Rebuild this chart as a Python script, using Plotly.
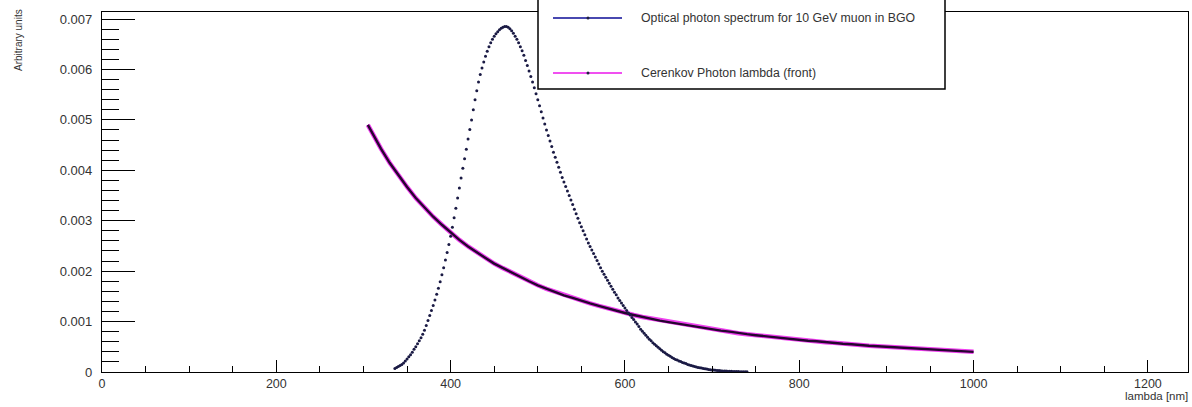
import plotly.graph_objects as go

# ---------------- data ----------------
# Optical photon spectrum for 10 GeV muon in BGO  (y in units of 1e-3)
bgo_lambda = list(range(336, 742, 2))
bgo_values = [
    0.07, 0.09, 0.11, 0.13, 0.15, 0.18, 0.22, 0.26, 0.30, 0.34,
    0.39, 0.45, 0.50, 0.56, 0.62, 0.68, 0.75, 0.83, 0.92, 1.02,
    1.12, 1.22, 1.32, 1.43, 1.54, 1.66, 1.79, 1.93, 2.07, 2.22,
    2.37, 2.53, 2.69, 2.87, 3.06, 3.25, 3.45, 3.65, 3.85, 4.04,
    4.23, 4.42, 4.62, 4.81, 5.00, 5.20, 5.40, 5.58, 5.75, 5.90,
    6.03, 6.15, 6.26, 6.36, 6.45, 6.53, 6.60, 6.66, 6.71, 6.75,
    6.79, 6.82, 6.84, 6.85, 6.85,
    6.84, 6.81, 6.77, 6.72, 6.66, 6.60, 6.53, 6.45, 6.37, 6.28,
    6.18, 6.08, 5.97, 5.86, 5.75, 5.64, 5.52, 5.40, 5.28, 5.16,
    5.04, 4.92, 4.80, 4.69, 4.58, 4.47, 4.36, 4.26, 4.16, 4.06,
    3.96, 3.86, 3.77, 3.68, 3.59, 3.50, 3.41, 3.32, 3.23, 3.14,
    3.05, 2.96, 2.88, 2.80, 2.72, 2.64, 2.56, 2.49, 2.42, 2.35,
    2.28, 2.21, 2.14, 2.07, 2.00, 1.94, 1.88, 1.82, 1.76, 1.70,
    1.64, 1.58, 1.53, 1.47, 1.42, 1.37, 1.32, 1.27, 1.22, 1.17,
    1.13, 1.08, 1.04, 0.99, 0.95, 0.90, 0.85, 0.81, 0.77, 0.73,
    0.69, 0.65, 0.62, 0.58, 0.55, 0.52, 0.49, 0.46, 0.43, 0.40,
    0.38, 0.35, 0.33, 0.31, 0.29, 0.27, 0.25, 0.24, 0.22, 0.21,
    0.19, 0.18, 0.17, 0.15, 0.14, 0.13, 0.12, 0.11, 0.10, 0.09,
    0.085, 0.078, 0.070, 0.064, 0.058, 0.052, 0.047, 0.042, 0.038, 0.034,
    0.031, 0.028, 0.025, 0.022, 0.020, 0.018, 0.016, 0.014, 0.013, 0.011,
    0.010, 0.009, 0.008, 0.007, 0.006, 0.005, 0.004, 0.004,
]

# Cerenkov Photon lambda (front)  (y in units of 1e-3)
cer_lambda = [305] + list(range(310, 1010, 10))
cer_values = [
    4.90,
    4.74, 4.43, 4.15, 3.90, 3.67, 3.45, 3.26, 3.08, 2.92, 2.76,
    2.62, 2.49, 2.37, 2.26, 2.15, 2.06, 1.97, 1.88, 1.80, 1.72,
    1.65, 1.59, 1.52, 1.47, 1.41, 1.36, 1.31, 1.26, 1.22, 1.17,
    1.13, 1.09, 1.06, 1.02, 0.99, 0.96, 0.93, 0.90, 0.87, 0.85,
    0.82, 0.80, 0.77, 0.75, 0.73, 0.71, 0.69, 0.67, 0.66, 0.64,
    0.62, 0.61, 0.59, 0.58, 0.56, 0.55, 0.53, 0.52, 0.51, 0.50,
    0.49, 0.48, 0.46, 0.45, 0.44, 0.43, 0.42, 0.42, 0.41, 0.40,
]

x_ticks = [0, 200, 400, 600, 800, 1000, 1200]
y_ticks = [0, 0.001, 0.002, 0.003, 0.004, 0.005, 0.006, 0.007]
y_ticktext = ["0", "0.001", "0.002", "0.003", "0.004", "0.005", "0.006", "0.007"]

legend_labels = ["Optical photon spectrum for 10 GeV muon in BGO",
                 "Cerenkov Photon lambda (front)"]

# ---------------- figure ----------------
W, H = 1192, 407
ML, MR, MT, MB = 102, 4, 12, 35
PW, PH = W - ML - MR, H - MT - MB


def px(xp):
    return (xp - ML) / PW


def py(yp):
    return (H - MB - yp) / PH


fig = go.Figure()

fig.add_trace(go.Scatter(
    x=cer_lambda, y=[v * 1e-3 for v in cer_values], mode="lines",
    line=dict(color="#f040f0", width=4.5), showlegend=False, hoverinfo="skip"))
fig.add_trace(go.Scatter(
    x=cer_lambda, y=[v * 1e-3 for v in cer_values], mode="lines",
    line=dict(color="#260530", width=2.4), showlegend=False, name=legend_labels[1]))
fig.add_trace(go.Scatter(
    x=bgo_lambda, y=[v * 1e-3 for v in bgo_values], mode="markers",
    marker=dict(color="#1a1a44", size=3), showlegend=False, name=legend_labels[0]))

font = "Liberation Sans, Arial, Helvetica, sans-serif"
tick_col = "#333333"

fig.update_layout(
    width=W, height=H,
    margin=dict(l=ML, r=MR, t=MT, b=MB),
    paper_bgcolor="white", plot_bgcolor="white",
    font=dict(family=font, color=tick_col),
    xaxis=dict(range=[0, 1246], showgrid=False, zeroline=False,
               showline=True, linecolor="black", linewidth=1.2, mirror=True,
               ticks="inside", ticklen=12, tickwidth=1, tickcolor="black",
               tickmode="array", tickvals=x_ticks,
               tickfont=dict(size=12.5, color=tick_col),
               minor=dict(ticks="inside", ticklen=6, tickwidth=1, tickcolor="black",
                          dtick=50, tick0=0, showgrid=False)),
    yaxis=dict(range=[0, 0.00714], showgrid=False, zeroline=False,
               showline=True, linecolor="black", linewidth=1.2, mirror=True,
               ticks="inside", ticklen=33, tickwidth=1, tickcolor="black",
               tickmode="array", tickvals=y_ticks, ticktext=y_ticktext,
               tickfont=dict(size=13, color=tick_col), ticklabelstandoff=6,
               minor=dict(ticks="inside", ticklen=17, tickwidth=1, tickcolor="black",
                          dtick=0.0002, tick0=0, showgrid=False)),
)

annotations = [
    dict(text="lambda [nm]", xref="paper", yref="paper", x=px(1190), y=py(388),
         xanchor="right", yanchor="top", showarrow=False,
         font=dict(size=11.5, color=tick_col, family=font)),
    dict(text="Arbitrary units", xref="paper", yref="paper", x=px(18), y=py(7),
         xanchor="center", yanchor="top", textangle=-90, showarrow=False,
         font=dict(size=10, color=tick_col, family=font)),
]

# legend box (drawn manually, ROOT style)
shapes = [
    dict(type="rect", xref="paper", yref="paper",
         x0=px(538), x1=px(945), y0=py(89), y1=py(-5),
         line=dict(color="black", width=1.5), fillcolor="white", layer="above"),
    dict(type="line", xref="paper", yref="paper",
         x0=px(553), x1=px(622), y0=py(18), y1=py(18),
         line=dict(color="#4848b0", width=2), layer="above"),
    dict(type="line", xref="paper", yref="paper",
         x0=px(553), x1=px(622), y0=py(73), y1=py(73),
         line=dict(color="#f050f0", width=2), layer="above"),
]
for yy in (18, 73):
    shapes.append(dict(type="circle", xref="paper", yref="paper",
                       x0=px(586.5), x1=px(589.5), y0=py(yy + 1.5), y1=py(yy - 1.5),
                       line=dict(width=0), fillcolor="#202040", layer="above"))

for lbl, yy in zip(legend_labels, (18, 73)):
    annotations.append(dict(text=lbl, xref="paper", yref="paper",
                            x=px(639), y=py(yy), xanchor="left", yanchor="middle",
                            showarrow=False,
                            font=dict(size=12.3, color=tick_col, family=font)))

fig.update_layout(annotations=annotations, shapes=shapes)

fig.write_html("out.html", config={"displayModeBar": False},
               post_script="document.body.style.margin='0';"
                           "document.body.style.overflow='hidden';")
